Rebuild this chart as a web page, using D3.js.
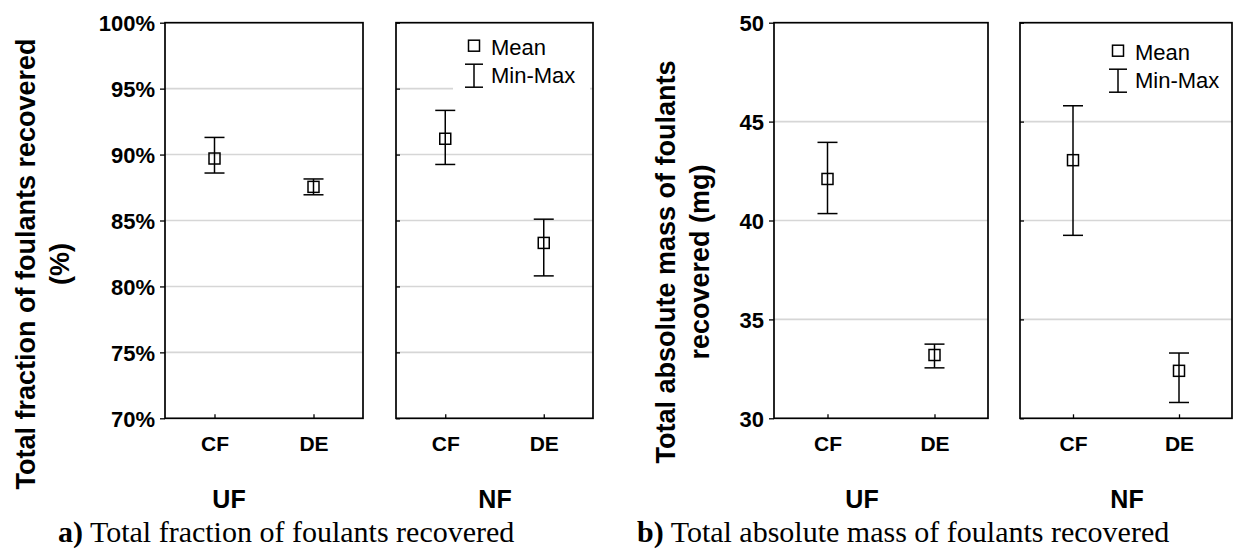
<!DOCTYPE html>
<html>
<head>
<meta charset="utf-8">
<script src="https://cdn.jsdelivr.net/npm/d3@7"></script>
<style>
  html, body { margin: 0; padding: 0; background: #fff; }
  svg { display: block; }
  .sans { font-family: Arial, "Liberation Sans", Helvetica, sans-serif; }
  .serif { font-family: "Times New Roman", "Liberation Serif", Times, serif; }
</style>
</head>
<body>
<svg id="fig" width="1236" height="556"></svg>
<script>
// Categories
const groups = ["UF", "NF"];
const methods = ["CF", "DE"];

// a) Total fraction of foulants recovered (%) — mean and min/max per method
const fracUFMean = [89.7, 87.55];
const fracUFMin  = [88.6, 86.95];
const fracUFMax  = [91.3, 88.15];
const fracNFMean = [91.2, 83.3];
const fracNFMin  = [89.25, 80.8];
const fracNFMax  = [93.35, 85.1];
const fracTicks  = [70, 75, 80, 85, 90, 95, 100];

// b) Total absolute mass of foulants recovered (mg)
const massUFMean = [42.1, 33.2];
const massUFMin  = [40.35, 32.55];
const massUFMax  = [43.95, 33.75];
const massNFMean = [43.05, 32.4];
const massNFMin  = [39.25, 30.8];
const massNFMax  = [45.8, 33.3];
const massTicks  = [30, 35, 40, 45, 50];

const legendLabels = ["Mean", "Min-Max"];

const svg = d3.select("#fig");

const TOP = 22.7, BOTTOM = 418.3;

function drawChart(cfg) {
  const y = d3.scaleLinear().domain(cfg.domain).range([BOTTOM, TOP]);
  const g = svg.append("g").attr("class", "sans");

  cfg.panels.forEach((p, i) => {
    const x = d3.scalePoint().domain(methods).range([p.x0, p.x1]).padding(0.5);
    const pg = g.append("g");

    // horizontal gridlines
    pg.append("g").selectAll("line")
      .data(cfg.ticks.filter(t => t > cfg.domain[0] && t < cfg.domain[1]))
      .join("line")
      .attr("x1", p.x0).attr("x2", p.x1)
      .attr("y1", d => y(d)).attr("y2", d => y(d))
      .attr("stroke", "#d6d6d6").attr("stroke-width", 1.6);

    // legend background (masks gridlines behind it)
    if (i === cfg.panels.length - 1) {
      pg.append("rect")
        .attr("x", p.x1 - 140).attr("y", TOP + 4)
        .attr("width", 137).attr("height", cfg.legendBoxH)
        .attr("fill", "#fff");
    }

    // y axis
    if (i === 0) {
      const ax = pg.append("g")
        .attr("transform", `translate(${p.x0},0)`)
        .call(d3.axisLeft(y).tickValues(cfg.ticks).tickFormat(cfg.fmt)
          .tickSizeInner(5).tickSizeOuter(0).tickPadding(5));
      ax.select(".domain").remove();
      ax.selectAll("line").attr("stroke", "#000").attr("stroke-width", 1.3);
      ax.selectAll("text")
        .attr("font-size", cfg.tickFont).attr("font-weight", "bold")
        .attr("font-family", "Arial, 'Liberation Sans', sans-serif")
        .attr("fill", "#000").attr("dy", "0.36em");
    } else {
      const ax = pg.append("g")
        .attr("transform", `translate(${p.x0},0)`)
        .call(d3.axisRight(y).tickValues(cfg.ticks).tickFormat("")
          .tickSizeInner(4).tickSizeOuter(0));
      ax.select(".domain").remove();
      ax.selectAll("line").attr("stroke", "#000").attr("stroke-width", 1.3);
    }

    // x axis (ticks pointing inward)
    const xa = pg.append("g")
      .attr("transform", `translate(0,${BOTTOM})`)
      .call(d3.axisBottom(x).tickSizeInner(-4).tickSizeOuter(0).tickPadding(18));
    xa.select(".domain").remove();
    xa.selectAll("line").attr("stroke", "#000").attr("stroke-width", 1.3);
    xa.selectAll("text")
      .attr("font-size", 21).attr("font-weight", "bold")
      .attr("font-family", "Arial, 'Liberation Sans', sans-serif")
      .attr("fill", "#000");

    // frame
    pg.append("rect")
      .attr("x", p.x0).attr("y", TOP)
      .attr("width", p.x1 - p.x0).attr("height", BOTTOM - TOP)
      .attr("fill", "none").attr("stroke", "#000").attr("stroke-width", 1.7);

    // min-max whiskers and mean markers
    const rows = methods.map((m, k) => ({ m, mean: p.mean[k], lo: p.min[k], hi: p.max[k] }));
    const cap = 10, half = 5.5;
    const eg = pg.append("g").attr("stroke", "#000").attr("stroke-width", 1.5).attr("fill", "none");
    eg.selectAll("line.v").data(rows).join("line").attr("class", "v")
      .attr("x1", d => x(d.m)).attr("x2", d => x(d.m))
      .attr("y1", d => y(d.hi)).attr("y2", d => y(d.lo));
    eg.selectAll("line.ch").data(rows).join("line").attr("class", "ch")
      .attr("x1", d => x(d.m) - cap).attr("x2", d => x(d.m) + cap)
      .attr("y1", d => y(d.hi)).attr("y2", d => y(d.hi));
    eg.selectAll("line.cl").data(rows).join("line").attr("class", "cl")
      .attr("x1", d => x(d.m) - cap).attr("x2", d => x(d.m) + cap)
      .attr("y1", d => y(d.lo)).attr("y2", d => y(d.lo));
    eg.selectAll("rect").data(rows).join("rect")
      .attr("x", d => x(d.m) - half).attr("y", d => y(d.mean) - half)
      .attr("width", 2 * half).attr("height", 2 * half);

    // group label under panel
    g.append("text")
      .attr("x", p.labelX).attr("y", 508)
      .attr("text-anchor", "middle")
      .attr("font-size", 25).attr("font-weight", "bold")
      .text(groups[i]);

    // legend
    if (i === cfg.panels.length - 1) {
      const lx = p.x1 - cfg.legendDx, ly = TOP + cfg.legendDy;
      const lg = pg.append("g");
      lg.append("rect")
        .attr("x", lx - 5.5).attr("y", ly - 5.5).attr("width", 11).attr("height", 11)
        .attr("fill", "none").attr("stroke", "#000").attr("stroke-width", 1.5);
      lg.append("text").attr("x", lx + 17).attr("y", ly + 9.5)
        .attr("font-size", 22).text(legendLabels[0]);
      const e0 = ly + 18.5, e1 = ly + 41.5;
      lg.append("line").attr("x1", lx).attr("x2", lx).attr("y1", e0).attr("y2", e1)
        .attr("stroke", "#000").attr("stroke-width", 1.5);
      [e0, e1].forEach(v => lg.append("line")
        .attr("x1", lx - 9).attr("x2", lx + 9).attr("y1", v).attr("y2", v)
        .attr("stroke", "#000").attr("stroke-width", 1.5));
      lg.append("text").attr("x", lx + 17).attr("y", ly + 37.5)
        .attr("font-size", 22).text(legendLabels[1]);
    }
  });

  // y axis title, two lines
  const t = g.append("text")
    .attr("transform", `translate(${cfg.titleX},${cfg.titleY}) rotate(-90)`)
    .attr("text-anchor", "middle")
    .attr("font-size", 27).attr("font-weight", "bold");
  cfg.title.forEach((line, k) => {
    t.append("tspan").attr("x", 0).attr("y", k * 34).text(line);
  });

  // caption
  const c = svg.append("text").attr("class", "serif")
    .attr("x", cfg.captionX).attr("y", 542).attr("font-size", 30).attr("fill", "#000");
  c.append("tspan").attr("font-weight", "bold").text(cfg.captionTag);
  c.append("tspan").text(" " + cfg.caption);
}

drawChart({
  domain: [70, 100],
  ticks: fracTicks,
  fmt: d => d + "%",
  tickFont: 22,
  panels: [
    { x0: 165, x1: 363, mean: fracUFMean, min: fracUFMin, max: fracUFMax, labelX: 229 },
    { x0: 396, x1: 593, mean: fracNFMean, min: fracNFMin, max: fracNFMax, labelX: 495 }
  ],
  legendDx: 119, legendDy: 23, legendBoxH: 66,
  title: ["Total fraction of foulants recovered", "(%)"],
  titleX: 35, titleY: 264,
  captionX: 58, captionTag: "a)", caption: "Total fraction of foulants recovered"
});

drawChart({
  domain: [30, 50],
  ticks: massTicks,
  fmt: d => d,
  tickFont: 22,
  panels: [
    { x0: 774, x1: 988, mean: massUFMean, min: massUFMin, max: massUFMax, labelX: 862 },
    { x0: 1020, x1: 1232, mean: massNFMean, min: massNFMin, max: massNFMax, labelX: 1127 }
  ],
  legendDx: 114, legendDy: 28, legendBoxH: 70,
  title: ["Total absolute mass of foulants", "recovered (mg)"],
  titleX: 675, titleY: 262,
  captionX: 637, captionTag: "b)", caption: "Total absolute mass of foulants recovered"
});
</script>
</body>
</html>
